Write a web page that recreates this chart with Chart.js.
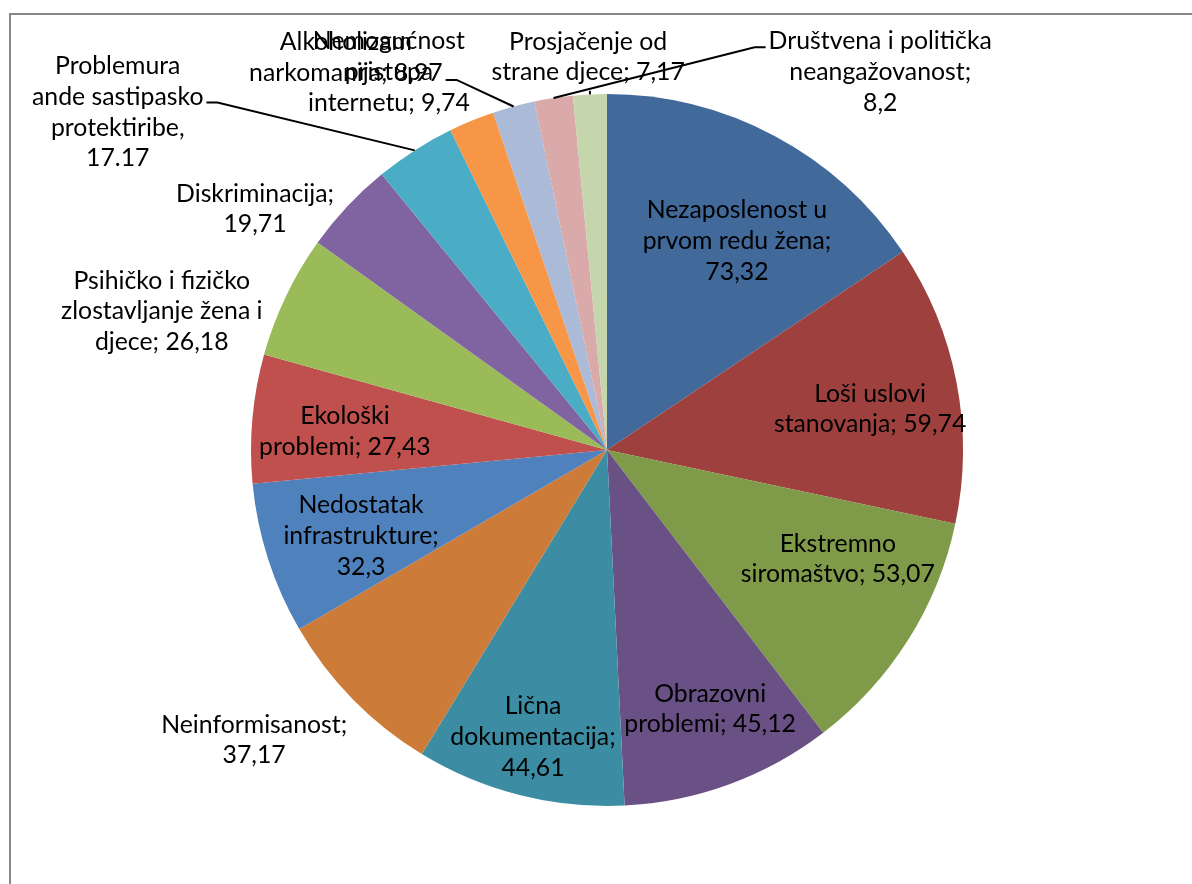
<!DOCTYPE html>
<html><head><meta charset="utf-8">
<script src="https://cdn.jsdelivr.net/npm/chart.js@4/dist/chart.umd.min.js"></script>
<style>html,body{margin:0;padding:0;background:#fff;overflow:hidden}canvas{display:block}</style>
</head><body>
<canvas id="c" width="1192" height="884"></canvas>
<script>
// ---- data ----
const categories = [
  "Nezaposlenost u prvom redu žena",
  "Loši uslovi stanovanja",
  "Ekstremno siromaštvo",
  "Obrazovni problemi",
  "Lična dokumentacija",
  "Neinformisanost",
  "Nedostatak infrastrukture",
  "Ekološki problemi",
  "Psihičko i fizičko zlostavljanje žena i djece",
  "Diskriminacija",
  "Problemura ande sastipasko protektiribe",
  "Nemogućnost pristupa internetu",
  "Alkoholizam narkomanija",
  "Društvena i politička neangažovanost",
  "Prosjačenje od strane djece"
];
const values = [73.32, 59.74, 53.07, 45.12, 44.61, 37.17, 32.3, 27.43, 26.18, 19.71, 17.17, 9.74, 8.97, 8.2, 7.17];
const dataLabels = [
  ["Nezaposlenost u", "prvom redu žena;", "73,32"],
  ["Loši uslovi", "stanovanja; 59,74"],
  ["Ekstremno", "siromaštvo; 53,07"],
  ["Obrazovni", "problemi; 45,12"],
  ["Lična", "dokumentacija;", "44,61"],
  ["Neinformisanost;", "37,17"],
  ["Nedostatak", "infrastrukture;", "32,3"],
  ["Ekološki", "problemi; 27,43"],
  ["Psihičko i fizičko", "zlostavljanje žena i", "djece; 26,18"],
  ["Diskriminacija;", "19,71"],
  ["Problemura", "ande sastipasko", "protektiribe,", "17.17"],
  ["Nemogućnost", "pristupa", "internetu; 9,74"],
  ["Alkoholizam", "narkomanija; 8,97"],
  ["Društvena i politička", "neangažovanost;", "8,2"],
  ["Prosjačenje od", "strane djece; 7,17"]
];
const colors = ["#41699A","#9E413E","#7F9A48","#6A5185","#3C8DA3","#CC7B38",
                "#4F81BD","#C0504D","#9BBB59","#8064A2","#4BACC6","#F79646",
                "#AABAD7","#D9AAA9","#C6D6AC"];

// ---- label placement (relative to each slice: k = distance / radius, dA = degrees from slice middle) ----
const labelPlacement = [
  {k:0.691,dA:3.8},{k:0.748,dA:2.1},{k:0.717,dA:-7.0},{k:0.783,dA:-1.6},{k:0.833,dA:0.2},
  {k:1.283,dA:5.0},{k:0.732,dA:-1.5},{k:0.738,dA:-1.1},{k:1.310,dA:-8.3},{k:1.198,dA:-8.8},
  {k:1.670,dA:-22.7},{k:1.226,dA:-7.6},{k:1.325,dA:-18.4},{k:1.310,dA:44.5},{k:1.105,dA:0.0}
];
const leaders = {10:{side:"right",at:0.42},11:{side:"bottom"},12:{side:"right",at:0.87},13:{side:"left",at:0.23},14:{side:"bottom"}};

const FONT = "24.8px Lato";
const LH = 30.7;

const framePlugin = {
  id: "frame",
  beforeDraw(chart) {
    const ctx = chart.ctx;
    ctx.save();
    ctx.strokeStyle = "#878787";
    ctx.lineWidth = 2;
    ctx.beginPath();
    ctx.moveTo(10, chart.height + 5);
    ctx.lineTo(10, 14);
    ctx.lineTo(chart.width + 5, 14);
    ctx.stroke();
    ctx.restore();
  }
};

const labelPlugin = {
  id: "sliceLabels",
  afterDatasetsDraw(chart) {
    const ctx = chart.ctx;
    const meta = chart.getDatasetMeta(0);
    ctx.save();
    ctx.font = FONT;
    ctx.fillStyle = "#000";
    ctx.textAlign = "center";
    ctx.textBaseline = "middle";
    meta.data.forEach((arc, i) => {
      const mid = (arc.startAngle + arc.endAngle) / 2;
      const r = arc.outerRadius;
      const pl = labelPlacement[i];
      const a = mid + pl.dA * Math.PI / 180;
      const cx = arc.x + Math.cos(a) * r * pl.k;
      const cy = arc.y + Math.sin(a) * r * pl.k;
      const lines = dataLabels[i];
      let w = 0;
      lines.forEach(t => { w = Math.max(w, ctx.measureText(t).width); });
      const h = lines.length * LH;
      const top = cy - h / 2;
      lines.forEach((t, j) => ctx.fillText(t, cx, top + LH / 2 + j * LH));
      const ld = leaders[i];
      if (ld) {
        const px = arc.x + Math.cos(mid) * r;
        const py = arc.y + Math.sin(mid) * r;
        ctx.beginPath();
        ctx.strokeStyle = "#000";
        ctx.lineWidth = 2;
        if (ld.side === "bottom") {
          const by = top + h + 3;
          if (py > by) { ctx.moveTo(px, by); ctx.lineTo(px, py); }
        } else if (ld.side === "right") {
          const sx = cx + w / 2 + 3, sy = top + ld.at * h;
          ctx.moveTo(sx, sy); ctx.lineTo(sx + 11, sy); ctx.lineTo(px, py);
        } else {
          const sx = cx - w / 2 - 3, sy = top + ld.at * h;
          ctx.moveTo(sx, sy); ctx.lineTo(sx - 11, sy); ctx.lineTo(px, py);
        }
        ctx.stroke();
      }
    });
    ctx.restore();
  }
};

new Chart(document.getElementById("c"), {
  type: "pie",
  data: {
    labels: categories,
    datasets: [{ data: values, backgroundColor: colors, borderWidth: 0 }]
  },
  options: {
    responsive: false,
    animation: false,
    events: [],
    layout: { padding: { left: 251, right: 229, top: 94, bottom: 78 } },
    plugins: { legend: { display: false }, tooltip: { enabled: false } }
  },
  plugins: [framePlugin, labelPlugin]
});
</script>
</body></html>
